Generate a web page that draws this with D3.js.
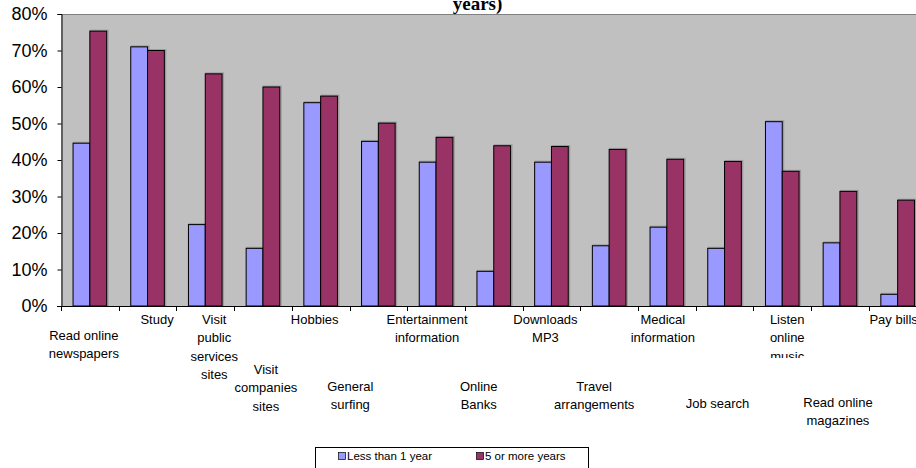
<!DOCTYPE html>
<meta charset="utf-8">
<style>
  body { margin: 0; background: #fff; }
  svg { display: block; overflow: hidden; }
  .ylab { font-family: "Liberation Sans", Arial, sans-serif; font-size: 18px; fill: #000; }
  .xlab { font-family: "Liberation Sans", Arial, sans-serif; font-size: 13px; fill: #000; }
  .leg { font-family: "Liberation Sans", Arial, sans-serif; font-size: 11.5px; fill: #000; }
  .title { font-family: "Liberation Serif", "Times New Roman", serif; font-size: 19px; font-weight: bold; }
</style>
<body>
<svg width="916" height="468"></svg>
<script src="https://d3js.org/d3.v7.min.js"></script>
<script>

// data (percent)
var categories = ["Read online newspapers", "Study", "Visit public services sites",
  "Visit companies sites", "Hobbies", "General surfing", "Entertainment information",
  "Online Banks", "Downloads MP3", "Travel arrangements", "Medical information",
  "Job search", "Listen online music", "Read online magazines", "Pay bills"];
var seriesNames = ["Less than 1 year", "5 or more years"];
var lessThanOne = [44.6, 71.0, 22.3, 15.8, 55.7, 45.1, 39.4, 9.5, 39.4, 16.5, 21.6, 15.8, 50.5, 17.3, 3.2];
var fiveOrMore = [75.3, 70.0, 63.6, 60.0, 57.5, 50.1, 46.2, 43.9, 43.7, 42.9, 40.2, 39.6, 36.9, 31.4, 29.0];
var yTicks = [0, 10, 20, 30, 40, 50, 60, 70, 80];

// how the category text wraps (as in the original)
var labelLines = [["Read online", "newspapers"], ["Study"], ["Visit", "public", "services", "sites"],
  ["Visit", "companies", "sites"], ["Hobbies"], ["General", "surfing"], ["Entertainment", "information"],
  ["Online", "Banks"], ["Downloads", "MP3"], ["Travel", "arrangements"], ["Medical", "information"],
  ["Job search"], ["Listen", "online", "music"], ["Read online", "magazines"], ["Pay bills"]];

// label placement, excel style staggering
var labelDx = [-6, 9.5, 9, 3, -6, -28, -9, -15, -6, -15, -4, -7, 5, -2, -4];
var labelTop = [335, 319, 319, 369, 319, 386, 319, 386, 319, 386, 319, 403, 319, 402, 319];
var lineH = 18.5;

var colors = ["#9999ff", "#993366"];

var svg = d3.select("svg");
var plotLeft = 61, plotTop = 14, plotBottom = 306;
var step = 57.7;
var plotRight = plotLeft + step * categories.length;   // runs past the window edge, like the original

var rows = categories.map(function(c, i) {
  return { cat: c, i: i, vals: [lessThanOne[i], fiveOrMore[i]] };
});

var x = d3.scaleBand().domain(categories).range([plotLeft, plotRight]).padding(0);
var xs = d3.scaleBand().domain(seriesNames).range([0, x.bandwidth()]).paddingInner(0).paddingOuter(0.717);
var y = d3.scaleLinear().domain([0, 80]).range([plotBottom, plotTop]);

// title (first line is cut off above the window)
svg.append("text").attr("class", "title")
  .attr("x", 477.5).attr("y", 10).attr("text-anchor", "middle")
  .text("years)");

// plot area
svg.append("rect")
  .attr("x", plotLeft).attr("y", plotTop)
  .attr("width", plotRight - plotLeft).attr("height", plotBottom - plotTop)
  .attr("fill", "#c0c0c0");
svg.append("line")
  .attr("x1", plotLeft).attr("x2", plotRight)
  .attr("y1", plotTop + 0.5).attr("y2", plotTop + 0.5)
  .attr("stroke", "#808080");

// bars
var groups = svg.selectAll(".grp")
  .data(rows)
  .enter().append("g")
  .attr("class", "grp")
  .attr("transform", function(d) { return "translate(" + x(d.cat) + ",0)"; });

var barData = function(d) {
  return d.vals.map(function(v, k) { return { s: seriesNames[k], v: v, k: k }; });
};

// soft shadow behind the bars
groups.selectAll(".shadow")
  .data(barData)
  .enter().append("rect")
  .attr("x", function(d) { return xs(d.s) + 1; })
  .attr("y", function(d) { return y(d.v) - 0.5; })
  .attr("width", xs.bandwidth())
  .attr("height", function(d) { return plotBottom - y(d.v) + 0.5; })
  .attr("fill", "none")
  .attr("stroke", "#707070")
  .attr("stroke-width", 2)
  .attr("opacity", 0.45);

groups.selectAll(".bar")
  .data(barData)
  .enter().append("rect")
  .attr("class", "bar")
  .attr("x", function(d) { return xs(d.s); })
  .attr("y", function(d) { return y(d.v); })
  .attr("width", xs.bandwidth())
  .attr("height", function(d) { return plotBottom - y(d.v); })
  .attr("fill", function(d) { return colors[d.k]; })
  .attr("stroke", "#000")
  .attr("stroke-width", 1);

// y axis
var yAxis = d3.axisLeft(y)
  .tickValues(yTicks)
  .tickSize(4)
  .tickPadding(10)
  .tickFormat(function(d) { return d + "%"; });
var yg = svg.append("g")
  .attr("transform", "translate(" + (plotLeft + 0.5) + ",0)")
  .call(yAxis);
yg.attr("font-size", null).attr("font-family", null);
yg.select(".domain").attr("stroke", "#000");
yg.selectAll("line").attr("stroke", "#000");
yg.selectAll("text").attr("class", "ylab");

// x axis line and boundary ticks
svg.append("line")
  .attr("x1", plotLeft - 4).attr("x2", plotRight)
  .attr("y1", plotBottom + 0.5).attr("y2", plotBottom + 0.5)
  .attr("stroke", "#000");
var bounds = categories.map(function(c) { return x(c); }).concat([plotRight]);
svg.selectAll(".xtick")
  .data(bounds)
  .enter().append("line")
  .attr("x1", function(d) { return Math.round(d) + 0.5; })
  .attr("x2", function(d) { return Math.round(d) + 0.5; })
  .attr("y1", plotBottom).attr("y2", plotBottom + 5)
  .attr("stroke", "#000");

// category labels
svg.append("clipPath").attr("id", "cutLabels")
  .append("rect").attr("x", 0).attr("y", 0).attr("width", 916).attr("height", 358);

var labels = svg.selectAll(".xl")
  .data(rows)
  .enter().append("text")
  .attr("class", "xlab")
  .attr("text-anchor", "middle")
  .attr("clip-path", function(d) { return labelLines[d.i].length == 3 && labelTop[d.i] == 319 ? "url(#cutLabels)" : null; });

labels.selectAll("tspan")
  .data(function(d) {
    return labelLines[d.i].map(function(t, j) {
      return { t: t, cx: x(d.cat) + x.bandwidth() / 2 + labelDx[d.i], cy: labelTop[d.i] + j * lineH };
    });
  })
  .enter().append("tspan")
  .attr("x", function(d) { return d.cx; })
  .attr("y", function(d) { return d.cy; })
  .attr("dy", "0.35em")
  .text(function(d) { return d.t; });

// legend
var leg = svg.append("g");
leg.append("rect")
  .attr("x", 315.5).attr("y", 447.5)
  .attr("width", 273).attr("height", 40)
  .attr("fill", "#fff").attr("stroke", "#000");
var legX = [338, 476];
seriesNames.forEach(function(s, k) {
  leg.append("rect")
    .attr("x", legX[k] + 0.5).attr("y", 452.5)
    .attr("width", 7).attr("height", 7)
    .attr("fill", colors[k]).attr("stroke", "#000").attr("stroke-width", 0.7);
  leg.append("text").attr("class", "leg")
    .attr("x", legX[k] + 9).attr("y", 456).attr("dy", "0.35em")
    .text(s);
});

</script>
</body>
